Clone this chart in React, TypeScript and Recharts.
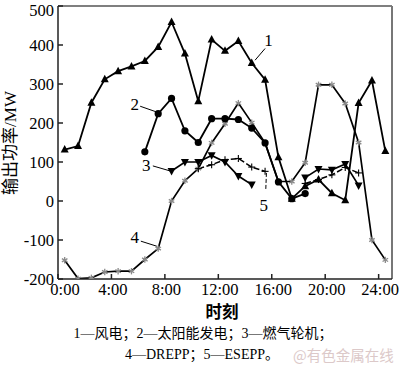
import {
	LineChart,
	Line,
	XAxis,
	YAxis,
	ReferenceLine,
	ReferenceDot,
} from 'recharts'

// hour of each sample (plotted at mid-hour)
const hours = [0.5, 1.5, 2.5, 3.5, 4.5, 5.5, 6.5, 7.5, 8.5, 9.5, 10.5, 11.5, 12.5, 13.5, 14.5, 15.5, 16.5, 17.5, 18.5, 19.5, 20.5, 21.5, 22.5, 23.5, 24.5]

// 1 风电
const wind = [132, 141, 252, 312, 333, 345, 359, 395, 459, 378, 256, 414, 385, 410, 354, 311, 112, 6, 38, 55, 20, 2, 251, 309, 128]
// 2 太阳能发电
const solar = [null, null, null, null, null, null, 126, 224, 263, 180, 150, 211, 211, 209, 187, 149, 49, 6, 19, null, null, null, null, null, null]
// 3 燃气轮机
const gas = [null, null, null, null, null, null, null, null, 77, 100, 100, 117, 100, 64, 42, null, null, null, 60, 82, 80, 95, 40, null, null]
// 4 DREPP
const drepp = [-152, -199, -197, -182, -180, -180, -150, -122, 0, 52, 83, 149, 198, 251, 201, 149, 50, 50, 98, 298, 298, 250, 150, -100, -151]
// 5 ESEPP
const esepp = [null, null, null, null, null, null, null, null, null, null, 83, 93, 106, 109, 87, 76, null, null, 45, 55, 67, 86, 72, null, null]

const xTicks = [0, 4, 8, 12, 16, 20, 24]
const yTicks = [-200, -100, 0, 100, 200, 300, 400, 500]

const data = hours.map((h, i) => ({
	h,
	wind: wind[i],
	solar: solar[i],
	gas: gas[i],
	drepp: drepp[i],
	esepp: esepp[i],
}))

const serif = '"Liberation Serif", "Times New Roman", serif'
const cjk = '"Liberation Serif", "Noto Sans CJK SC", serif'

const ok = (p: any) => p && typeof p.cx === 'number' && typeof p.cy === 'number' && !isNaN(p.cy)

function TriUp(p: any) {
	if (!ok(p)) return <g key={p?.key} />
	const { cx, cy } = p
	return <path key={p.key} d={`M${cx},${cy - 4.5}L${cx + 4},${cy + 3}L${cx - 4},${cy + 3}Z`} fill="#000" />
}

function TriDown(p: any) {
	if (!ok(p)) return <g key={p?.key} />
	const { cx, cy } = p
	return <path key={p.key} d={`M${cx},${cy + 4.5}L${cx + 4},${cy - 3}L${cx - 4},${cy - 3}Z`} fill="#000" />
}

function Circle(p: any) {
	if (!ok(p)) return <g key={p?.key} />
	return <circle key={p.key} cx={p.cx} cy={p.cy} r={3.6} fill="#000" />
}

function Star(p: any) {
	if (!ok(p)) return <g key={p?.key} />
	const { cx, cy } = p
	const r = 3.2
	const dx = r * 0.866
	const dy = r * 0.5
	return (
		<g key={p.key} stroke="#8a8a8a" strokeWidth={1.3}>
			<line x1={cx} y1={cy - r} x2={cx} y2={cy + r} />
			<line x1={cx - dx} y1={cy - dy} x2={cx + dx} y2={cy + dy} />
			<line x1={cx - dx} y1={cy + dy} x2={cx + dx} y2={cy - dy} />
		</g>
	)
}

function Plus(p: any) {
	if (!ok(p)) return <g key={p?.key} />
	const { cx, cy } = p
	return (
		<g key={p.key} stroke="#000" strokeWidth={1.1}>
			<line x1={cx - 3.5} y1={cy} x2={cx + 3.5} y2={cy} />
			<line x1={cx} y1={cy - 3.5} x2={cx} y2={cy + 3.5} />
		</g>
	)
}

function XTick(p: any) {
	const { x, y, payload } = p
	const shift = payload.value === 0 ? 7 : 1.5
	return (
		<text x={x + shift} y={y} dy="0.8em" textAnchor="middle" fontFamily={serif} fontSize={16.5} fill="#000">
			{`${payload.value}:00`}
		</text>
	)
}

const numLabel = (v: string) => ({
	value: v,
	position: 'center' as const,
	fontFamily: serif,
	fontSize: 17,
	fill: '#000',
})

export default function App() {
	return (
		<div style={{ position: 'absolute', left: 0, top: 0, width: 400, height: 369, background: '#fff' }}>
			<LineChart width={400} height={369} data={data} margin={{ top: 6, right: 8, left: 8, bottom: 60 }}>
				<XAxis
					dataKey="h"
					type="number"
					domain={[0, 25]}
					ticks={xTicks}
					tick={<XTick />}
					tickSize={-5}
					tickMargin={8}
					height={30}
					stroke="#222"
					strokeWidth={1.5}
					allowDataOverflow
				/>
				<YAxis
					type="number"
					domain={[-200, 500]}
					ticks={yTicks}
					tickSize={-5}
					tickMargin={9}
					width={50}
					stroke="#222"
					strokeWidth={1.5}
					tick={{ fontFamily: serif, fontSize: 16.5, fill: '#000' }}
					allowDataOverflow
				/>
				<ReferenceLine y={500} stroke="#555" strokeWidth={1.5} />
				<ReferenceLine x={25} stroke="#777" strokeWidth={2} />

				<Line dataKey="drepp" stroke="#000" strokeWidth={1.7} dot={<Star />} isAnimationActive={false} />
				<Line dataKey="esepp" stroke="#000" strokeWidth={1.5} strokeDasharray="6 2.5" dot={<Plus />} isAnimationActive={false} />
				<Line dataKey="gas" stroke="#000" strokeWidth={1.7} dot={<TriDown />} isAnimationActive={false} />
				<Line dataKey="solar" stroke="#000" strokeWidth={1.8} dot={<Circle />} isAnimationActive={false} />
				<Line dataKey="wind" stroke="#000" strokeWidth={1.8} dot={<TriUp />} isAnimationActive={false} />

				{/* series callouts */}
				<ReferenceLine segment={[{ x: 14.75, y: 361 }, { x: 15.5, y: 391 }]} stroke="#000" strokeWidth={1} />
				<ReferenceDot x={15.75} y={414} r={1} fill="none" stroke="none" label={numLabel('1')} />
				<ReferenceLine segment={[{ x: 6.15, y: 243 }, { x: 7.4, y: 228 }]} stroke="#000" strokeWidth={1} />
				<ReferenceDot x={5.75} y={250} r={1} fill="none" stroke="none" label={numLabel('2')} />
				<ReferenceLine segment={[{ x: 7.1, y: 90 }, { x: 8.4, y: 77 }]} stroke="#000" strokeWidth={1} />
				<ReferenceDot x={6.6} y={92} r={1} fill="none" stroke="none" label={numLabel('3')} />
				<ReferenceLine segment={[{ x: 6.2, y: -103 }, { x: 7.4, y: -116 }]} stroke="#000" strokeWidth={1} />
				<ReferenceDot x={5.75} y={-92} r={1} fill="none" stroke="none" label={numLabel('4')} />
				<ReferenceLine segment={[{ x: 15.6, y: 72 }, { x: 15.55, y: 27 }]} stroke="#000" strokeWidth={1} strokeDasharray="4 2" />
				<ReferenceDot x={15.4} y={-11} r={1} fill="none" stroke="none" label={numLabel('5')} />
			</LineChart>

			<div
				style={{
					position: 'absolute',
					left: 10,
					top: 143,
					transform: 'translate(-50%, -50%) rotate(-90deg)',
					whiteSpace: 'nowrap',
					fontFamily: cjk,
					fontSize: 17,
					lineHeight: 1,
				}}
			>
				输出功率/MW
			</div>
			<div
				style={{
					position: 'absolute',
					left: 222,
					top: 313,
					transform: 'translate(-50%, -50%)',
					fontFamily: cjk,
					fontSize: 16.5,
					fontWeight: 'bold',
					lineHeight: 1,
					whiteSpace: 'nowrap',
				}}
			>
				时刻
			</div>
			<div
				style={{
					position: 'absolute',
					left: 203,
					top: 334,
					transform: 'translate(-50%, -50%)',
					fontFamily: cjk,
					fontSize: 14,
					lineHeight: 1,
					whiteSpace: 'nowrap',
				}}
			>
				1—风电；2—太阳能发电；3—燃气轮机；
			</div>
			<div
				style={{
					position: 'absolute',
					left: 202,
					top: 355,
					transform: 'translate(-50%, -50%)',
					fontFamily: cjk,
					fontSize: 14,
					lineHeight: 1,
					whiteSpace: 'nowrap',
				}}
			>
				4—DREPP；5—ESEPP。
			</div>
			<div
				style={{
					position: 'absolute',
					left: 293,
					top: 355,
					transform: 'translateY(-50%)',
					fontFamily: '"Noto Sans CJK SC", sans-serif',
					fontSize: 14.5,
					lineHeight: 1,
					color: '#dcc9c9',
					whiteSpace: 'nowrap',
				}}
			>
				@有色金属在线
			</div>
		</div>
	)
}
